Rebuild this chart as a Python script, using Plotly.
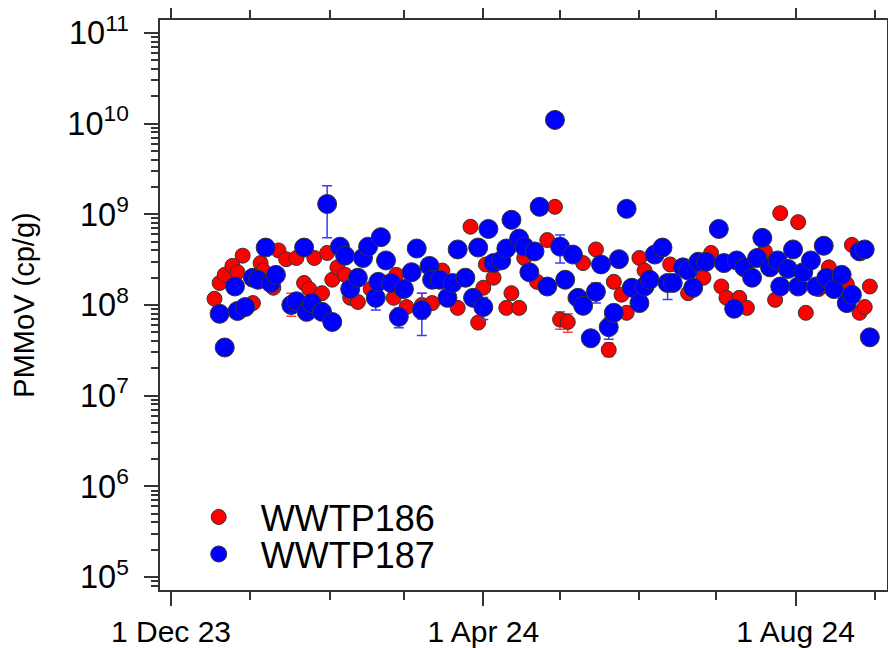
import plotly.graph_objects as go

# ---------------- data ----------------
red_name = "WWTP186"
blue_name = "WWTP187"

red_dates = [
    "2023-12-18", "2023-12-20", "2023-12-22", "2023-12-25", "2023-12-27",
    "2023-12-29", "2024-01-02", "2024-01-05", "2024-01-06", "2024-01-10",
    "2024-01-12", "2024-01-15", "2024-01-17", "2024-01-19", "2024-01-22",
    "2024-01-24", "2024-01-26", "2024-01-29", "2024-01-31", "2024-02-02",
    "2024-02-04", "2024-02-07", "2024-02-09", "2024-02-12", "2024-02-17",
    "2024-02-26", "2024-02-27", "2024-03-02", "2024-03-08", "2024-03-12",
    "2024-03-16", "2024-03-22", "2024-03-27", "2024-03-30", "2024-04-01",
    "2024-04-02", "2024-04-05", "2024-04-10", "2024-04-12", "2024-04-15",
    "2024-04-17", "2024-04-22", "2024-04-26", "2024-04-29", "2024-05-01",
    "2024-05-04", "2024-05-07", "2024-05-10", "2024-05-15", "2024-05-20",
    "2024-05-22", "2024-05-25", "2024-05-27", "2024-06-01", "2024-06-03",
    "2024-06-13", "2024-06-20", "2024-06-26", "2024-06-29", "2024-07-03",
    "2024-07-05", "2024-07-10", "2024-07-13", "2024-07-20", "2024-07-24",
    "2024-07-26", "2024-08-02", "2024-08-05", "2024-08-10", "2024-08-14",
    "2024-08-21", "2024-08-23", "2024-08-26", "2024-08-28", "2024-08-30",
]
red_values = [
    1.17e8, 1.75e8, 2.15e8, 2.7e8, 2.3e8,
    3.5e8, 1.05e8, 2.9e8, 2.4e8, 1.55e8,
    4.0e8, 3.2e8, 1.05e8, 3.3e8, 1.75e8,
    1.5e8, 3.3e8, 1.35e8, 3.75e8, 1.9e8,
    2.6e8, 2.15e8, 1.2e8, 1.08e8, 1.5e8,
    1.2e8, 2.15e8, 9.5e7, 1.0e8, 1.05e8,
    2.4e8, 9.3e7, 7.3e8, 6.4e7, 1.55e8,
    2.8e8, 2.0e8, 9.3e7, 1.35e8, 9.3e7,
    3.3e8, 1.8e8, 5.2e8, 1.21e9, 6.9e7,
    6.5e7, 1.2e8, 2.9e8, 4.1e8, 3.2e7,
    1.8e8, 1.3e8, 8.2e7, 3.3e8, 2.4e8,
    2.8e8, 1.35e8, 2.0e8, 3.75e8, 1.6e8,
    1.2e8, 1.2e8, 9.3e7, 3.9e8, 1.14e8,
    1.03e9, 8.2e8, 8.2e7, 1.5e8, 2.6e8,
    1.7e8, 4.6e8, 8.2e7, 9.5e7, 1.6e8,
]
# date -> (plus, minus) error
red_err = {
    "2024-01-12": (4e7, 4e7),
    "2024-01-17": (3e7, 3e7),
    "2024-03-08": (3.5e7, 3e7),
    "2024-05-01": (1.5e7, 1.5e7),
    "2024-05-04": (1.5e7, 1.5e7),
    "2024-05-20": (6e6, 5e6),
}

blue_dates = [
    "2023-12-20", "2023-12-22", "2023-12-26", "2023-12-27", "2023-12-30",
    "2024-01-02", "2024-01-04", "2024-01-07", "2024-01-09", "2024-01-11",
    "2024-01-17", "2024-01-19", "2024-01-22", "2024-01-23", "2024-01-25",
    "2024-01-29", "2024-01-31", "2024-02-02", "2024-02-05", "2024-02-07",
    "2024-02-09", "2024-02-12", "2024-02-14", "2024-02-16", "2024-02-19",
    "2024-02-20", "2024-02-21", "2024-02-23", "2024-02-25", "2024-02-28",
    "2024-03-01", "2024-03-04", "2024-03-06", "2024-03-08", "2024-03-11",
    "2024-03-12", "2024-03-15", "2024-03-18", "2024-03-20", "2024-03-22",
    "2024-03-25", "2024-03-28", "2024-03-30", "2024-04-01", "2024-04-03",
    "2024-04-05", "2024-04-08", "2024-04-10", "2024-04-12", "2024-04-15",
    "2024-04-17", "2024-04-19", "2024-04-21", "2024-04-23", "2024-04-26",
    "2024-04-29", "2024-05-01", "2024-05-03", "2024-05-06", "2024-05-08",
    "2024-05-10", "2024-05-13", "2024-05-15", "2024-05-17", "2024-05-20",
    "2024-05-22", "2024-05-24", "2024-05-27", "2024-05-29", "2024-06-01",
    "2024-06-03", "2024-06-05", "2024-06-07", "2024-06-10", "2024-06-12",
    "2024-06-14", "2024-06-18", "2024-06-20", "2024-06-22", "2024-06-24",
    "2024-06-27", "2024-07-02", "2024-07-04", "2024-07-08", "2024-07-09",
    "2024-07-12", "2024-07-15", "2024-07-17", "2024-07-19", "2024-07-22",
    "2024-07-25", "2024-07-26", "2024-07-29", "2024-07-31", "2024-08-02",
    "2024-08-04", "2024-08-07", "2024-08-09", "2024-08-12", "2024-08-13",
    "2024-08-16", "2024-08-19", "2024-08-21", "2024-08-23", "2024-08-26",
    "2024-08-28", "2024-08-30",
]
blue_values = [
    8.0e7, 3.4e7, 1.6e8, 8.6e7, 9.5e7,
    2.0e8, 1.9e8, 4.3e8, 1.75e8, 2.15e8,
    1.0e8, 1.1e8, 4.3e8, 8.4e7, 1.05e8,
    8.4e7, 1.3e9, 6.5e7, 4.4e8, 3.5e8,
    1.5e8, 2.0e8, 3.3e8, 4.4e8, 1.2e8,
    1.8e8, 5.6e8, 3.1e8, 1.75e8, 7.4e7,
    1.5e8, 2.3e8, 4.2e8, 8.8e7, 2.7e8,
    1.9e8, 1.9e8, 1.2e8, 1.75e8, 4.1e8,
    2.0e8, 1.2e8, 4.3e8, 9.5e7, 6.9e8,
    2.9e8, 3.1e8, 4.2e8, 8.7e8, 5.4e8,
    4.4e8, 2.3e8, 3.9e8, 1.21e9, 1.6e8,
    1.1e10, 4.4e8, 1.9e8, 3.6e8, 1.2e8,
    9.8e7, 4.3e7, 1.4e8, 2.8e8, 5.7e7,
    8.2e7, 3.2e8, 1.15e9, 1.55e8, 1.05e8,
    1.6e8, 1.9e8, 3.6e8, 4.3e8, 1.75e8,
    1.75e8, 2.6e8, 2.4e8, 1.55e8, 3.0e8,
    3.0e8, 6.9e8, 2.9e8, 9.1e7, 3.1e8,
    2.6e8, 2.0e8, 3.3e8, 5.5e8, 2.6e8,
    3.1e8, 1.6e8, 2.5e8, 4.1e8, 1.6e8,
    2.3e8, 3.1e8, 1.6e8, 4.5e8, 2.0e8,
    1.5e8, 2.15e8, 1.05e8, 1.3e8, 3.9e8,
    4.1e8, 4.4e7,
]
blue_err = {
    "2024-01-31": (7.6e8, 7.5e8),
    "2024-02-19": (3.0e7, 3.2e7),
    "2024-02-28": (1.8e7, 1.8e7),
    "2024-03-08": (4.7e7, 4.2e7),
    "2024-04-01": (2.6e7, 2.6e7),
    "2024-05-01": (1.5e8, 1.5e8),
    "2024-05-15": (3.5e7, 3.5e7),
    "2024-05-20": (1.5e7, 1.5e7),
    "2024-05-29": (2.0e7, 2.0e7),
    "2024-06-12": (2.0e7, 6.0e7),
}

x_tick_vals = ["2023-12-01", "2024-04-01", "2024-08-01"]
x_tick_text = ["1 Dec 23", "1 Apr 24", "1 Aug 24"]
x_range = ["2023-11-26 17:00", "2024-09-05 17:00"]
y_title = "PMMoV (cp/g)"

# ---------------- figure ----------------
FONT = "Liberation Sans, Arial, Helvetica, sans-serif"
AX = "#333333"


def err_arrays(dates, errs):
    plus = [errs[d][0] if d in errs else None for d in dates]
    minus = [errs[d][1] if d in errs else None for d in dates]
    return plus, minus


rp, rm = err_arrays(red_dates, red_err)
bp, bm = err_arrays(blue_dates, blue_err)

fig = go.Figure()
fig.add_trace(go.Scatter(
    x=red_dates, y=red_values, mode="markers", name=red_name, legend="legend",
    marker=dict(size=15, color="#ff0000", line=dict(color="#333333", width=1)),
    error_y=dict(type="data", array=rp, arrayminus=rm, symmetric=False,
                 color="#ff4040", thickness=1.5, width=5),
))
fig.add_trace(go.Scatter(
    x=blue_dates, y=blue_values, mode="markers", name=blue_name, legend="legend2",
    marker=dict(size=19, color="#0000ff", line=dict(color="#333333", width=1)),
    error_y=dict(type="data", array=bp, arrayminus=bm, symmetric=False,
                 color="#3a3aff", thickness=1.5, width=5),
))

leg_common = dict(x=0.023, xanchor="left", yanchor="middle",
                  bgcolor="rgba(0,0,0,0)", font=dict(size=36, family=FONT),
                  itemwidth=74, itemsizing="trace")

# the page body adds an 8 px offset, so the figure is 888x640 with shifted margins
fig.update_layout(
    width=888, height=640,
    margin=dict(l=152, r=9, t=12, b=58),
    paper_bgcolor="white", plot_bgcolor="white",
    font=dict(family=FONT, color="black", size=26),
    showlegend=True,
    legend=dict(y=0.128, **leg_common),
    legend2=dict(y=0.063, **leg_common),
)
fig.update_xaxes(
    type="date", range=x_range, automargin=False,
    tickmode="array", tickvals=x_tick_vals, ticktext=x_tick_text,
    ticks="outside", ticklen=14, tickwidth=2, tickcolor=AX,
    showline=True, linecolor=AX, linewidth=2, mirror="ticks",
    showgrid=False, zeroline=False,
    tickfont=dict(size=30, family=FONT),
    minor=dict(dtick="M1", tick0="2023-12-01", ticks="outside", ticklen=8,
               tickwidth=2, tickcolor=AX, showgrid=False),
)
fig.update_yaxes(
    type="log", range=[4.857, 11.143], dtick=1, automargin=False,
    exponentformat="power",
    ticks="outside", ticklen=14, tickwidth=2, tickcolor=AX,
    showline=True, linecolor=AX, linewidth=2, mirror="ticks",
    showgrid=False, zeroline=False, ticklabelstandoff=10,
    tickfont=dict(size=26, family=FONT),
    title=dict(text=y_title, font=dict(size=29, family=FONT), standoff=26),
    minor=dict(dtick="D1", ticks="outside", ticklen=7, tickwidth=1.5,
               tickcolor=AX, showgrid=False),
)

fig.write_html("out.html")
